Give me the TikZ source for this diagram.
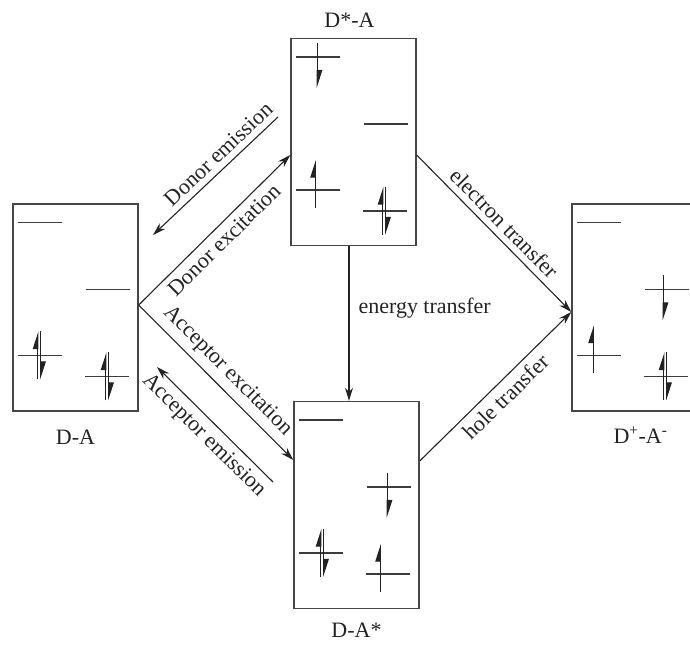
\documentclass[tikz,border=0pt]{standalone}
\usepackage{fontspec}
\setmainfont{Liberation Serif}
\usepackage{tikz}
\usetikzlibrary{arrows.meta,positioning}
\definecolor{boxgray}{RGB}{70,70,70}
\definecolor{levelgray}{RGB}{60,60,60}
\definecolor{inkgray}{RGB}{35,35,35}

\newcommand\molevels{\foreach \lx/\ly in {6/19,74/86,6/152,73/173}
  \draw[molevel] (\lx,\ly) -- ++(44,0);}
\newcommand\elup[2]{\draw[spin] (#1,#2+18) -- (#1,#2-30);}
\newcommand\eldown[2]{\draw[spin] (#1,#2-14) -- (#1,#2+31);}
\newcommand\elpair[2]{\draw[spin] (#1-1.5,#2+24) -- (#1-1.5,#2-24);
  \draw[spin] (#1+1.5,#2-24) -- (#1+1.5,#2+24);}

\begin{document}
\begin{tikzpicture}[
  x=1pt,y=-1pt,
  mobox/.style={draw=boxgray,line width=1.4pt,minimum width=125pt,
    minimum height=207pt,inner sep=0pt},
  molevel/.style={draw=levelgray,line width=1.5pt},
  spin/.style={draw=inkgray,line width=1.2pt,-{Triangle[left,length=16pt,width=10pt]}},
  arr/.style={draw=inkgray,line width=1.1pt,-{Stealth[length=13pt,width=8pt]}},
  rarr/.style={draw=inkgray,line width=1.1pt,{Stealth[length=13pt,width=8pt]}-},
  lab/.style={text=inkgray,font=\fontsize{22}{26}\selectfont,inner sep=6pt},
  boxlab/.style={lab,inner sep=1pt}
]
\useasboundingbox (0,0) rectangle (690,645);
\clip (0,0) rectangle (690,645);
\node[mobox] (da) at (75.5,307.5) {};
\node[mobox] (dsa) at (353.5,142) {};
\node[mobox] (das) at (356.5,505) {};
\node[mobox] (dpa) at (634.5,307.5) {};
\node[boxlab,below=17pt of da] (dalab) {D-A};
\node[boxlab,above=9pt of dsa,xshift=-4pt] (dsalab) {D*-A};
\node[boxlab,below=13pt of das] (daslab) {D-A*};
\node[boxlab,below=14pt of dpa,xshift=6pt] (dpalab) {D\textsuperscript{+}-A\textsuperscript{-}};

\begin{scope}[shift={(da.north west)}]
  \molevels
  \elpair{27}{152}
  \elpair{95}{173}
\end{scope}
\begin{scope}[shift={(dsa.north west)}]
  \molevels
  \eldown{27}{19}
  \elup{25}{152}
  \elpair{94}{173}
\end{scope}
\begin{scope}[shift={(das.north west)}]
  \molevels
  \eldown{94}{86}
  \elpair{29}{152}
  \elup{87}{173}
\end{scope}
\begin{scope}[shift={(dpa.north west)}]
  \molevels
  \eldown{92}{86}
  \elup{22}{152}
  \elpair{94}{173}
\end{scope}

\coordinate (dout) at ([yshift=2.5pt]da.east);
\coordinate (dex) at ([yshift=-13pt]dsa.west);
\coordinate (aex) at ([yshift=45pt]das.west);
\coordinate (etr) at ([yshift=-13pt]dsa.east);
\coordinate (htr) at ([yshift=44pt]das.east);
\coordinate (ctin) at ([yshift=-4.5pt]dpa.west);
\coordinate (etop) at ([xshift=-4.5pt]dsa.south);
\coordinate (ebot) at (etop |- das.north);
\coordinate (dem1) at (278,117);
\coordinate (dem2) at (153,235);
\coordinate (aem1) at (157,367);
\coordinate (aem2) at (273,482);

\draw[arr] (dout) -- node[lab,midway,below,sloped] {Donor excitation} (dex);
\draw[rarr] (dem2) -- node[lab,pos=0.6,above,sloped] {Donor emission} (dem1);
\draw[arr] (dout) -- node[lab,midway,above,sloped] {Acceptor excitation} (aex);
\draw[rarr] (aem1) -- node[lab,midway,below,sloped] {Acceptor emission} (aem2);
\draw[arr] (etop) -- node[lab,pos=0.4,right=3pt] {energy transfer} (ebot);
\draw[arr] (etr) -- node[lab,midway,above,sloped] {electron transfer} (ctin);
\draw[arr] (htr) -- node[lab,midway,below,sloped] {hole transfer} (ctin);
\end{tikzpicture}
\end{document}
